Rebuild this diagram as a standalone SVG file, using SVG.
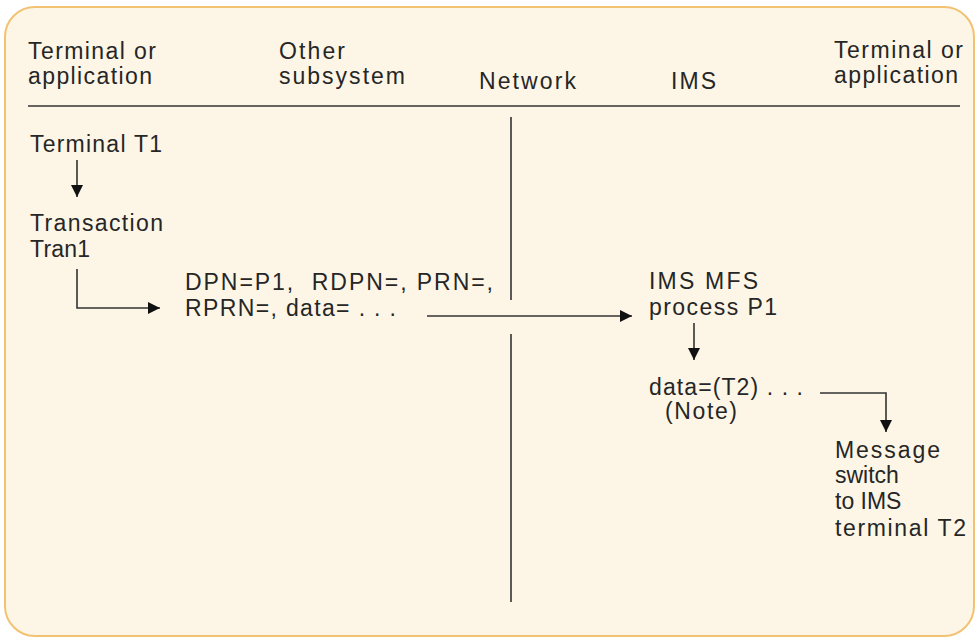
<svg xmlns="http://www.w3.org/2000/svg" width="978" height="642" viewBox="0 0 978 642">
<style>
text{font-family:"Liberation Sans",Arial,sans-serif;font-size:23px;fill:#262626}
.ln{stroke:#333;stroke-width:1.6;fill:none}
</style>
<defs>
<marker id="ah" viewBox="0 0 10 10" refX="10" refY="5" markerWidth="12" markerHeight="12" markerUnits="userSpaceOnUse" orient="auto">
<path d="M0,0 L10,5 L0,10 z" fill="#111"/>
</marker>
</defs>
<rect x="5" y="7" width="969" height="629" rx="30" ry="30" fill="#fdf6e6" stroke="#f2c272" stroke-width="2"/>
<g id="headers">
<text x="28" y="59" textLength="128" lengthAdjust="spacing">Terminal or</text>
<text x="28" y="84" textLength="124" lengthAdjust="spacing">application</text>
<text x="279" y="59" textLength="66" lengthAdjust="spacing">Other</text>
<text x="279" y="84" textLength="126" lengthAdjust="spacing">subsystem</text>
<text x="479" y="89" textLength="97" lengthAdjust="spacing">Network</text>
<text x="671" y="89" textLength="45" lengthAdjust="spacing">IMS</text>
<text x="834" y="58" textLength="129" lengthAdjust="spacing">Terminal or</text>
<text x="834" y="83" textLength="124" lengthAdjust="spacing">application</text>
</g>
<g id="lanes">
<line class="ln" x1="28" y1="106" x2="960" y2="106"/>
<line class="ln" x1="511" y1="117" x2="511" y2="300"/>
<line class="ln" x1="511" y1="334" x2="511" y2="602"/>
</g>
<g id="terminal-t1"><text x="30" y="152" textLength="132" lengthAdjust="spacing">Terminal T1</text></g>
<g id="transaction"><text x="30" y="231" textLength="133" lengthAdjust="spacing">Transaction</text><text x="30" y="257" textLength="60" lengthAdjust="spacing">Tran1</text></g>
<g id="message"><text x="185" y="290" xml:space="preserve" textLength="308" lengthAdjust="spacing">DPN=P1,  RDPN=, PRN=,</text><text x="185" y="316" textLength="211" lengthAdjust="spacing">RPRN=, data= . . .</text></g>
<g id="mfs"><text x="649" y="289" textLength="109" lengthAdjust="spacing">IMS MFS</text><text x="649" y="315" textLength="128" lengthAdjust="spacing">process P1</text></g>
<g id="data"><text x="649" y="395" textLength="154" lengthAdjust="spacing">data=(T2) . . .</text><text x="665" y="419" textLength="72" lengthAdjust="spacing">(Note)</text></g>
<g id="switch"><text x="835" y="458" textLength="105" lengthAdjust="spacing">Message</text><text x="835" y="483">switch</text><text x="835" y="509">to IMS</text><text x="835" y="536" textLength="131" lengthAdjust="spacing">terminal T2</text></g>
<g id="connectors">
<line class="ln" x1="77" y1="160" x2="77" y2="197" marker-end="url(#ah)"/>
<polyline class="ln" points="77,269 77,308 160,308" marker-end="url(#ah)"/>
<line class="ln" x1="427" y1="316" x2="632" y2="316" marker-end="url(#ah)"/>
<line class="ln" x1="694" y1="323" x2="694" y2="360" marker-end="url(#ah)"/>
<polyline class="ln" points="820,393 886,393 886,432" marker-end="url(#ah)"/>
</g>
</svg>
